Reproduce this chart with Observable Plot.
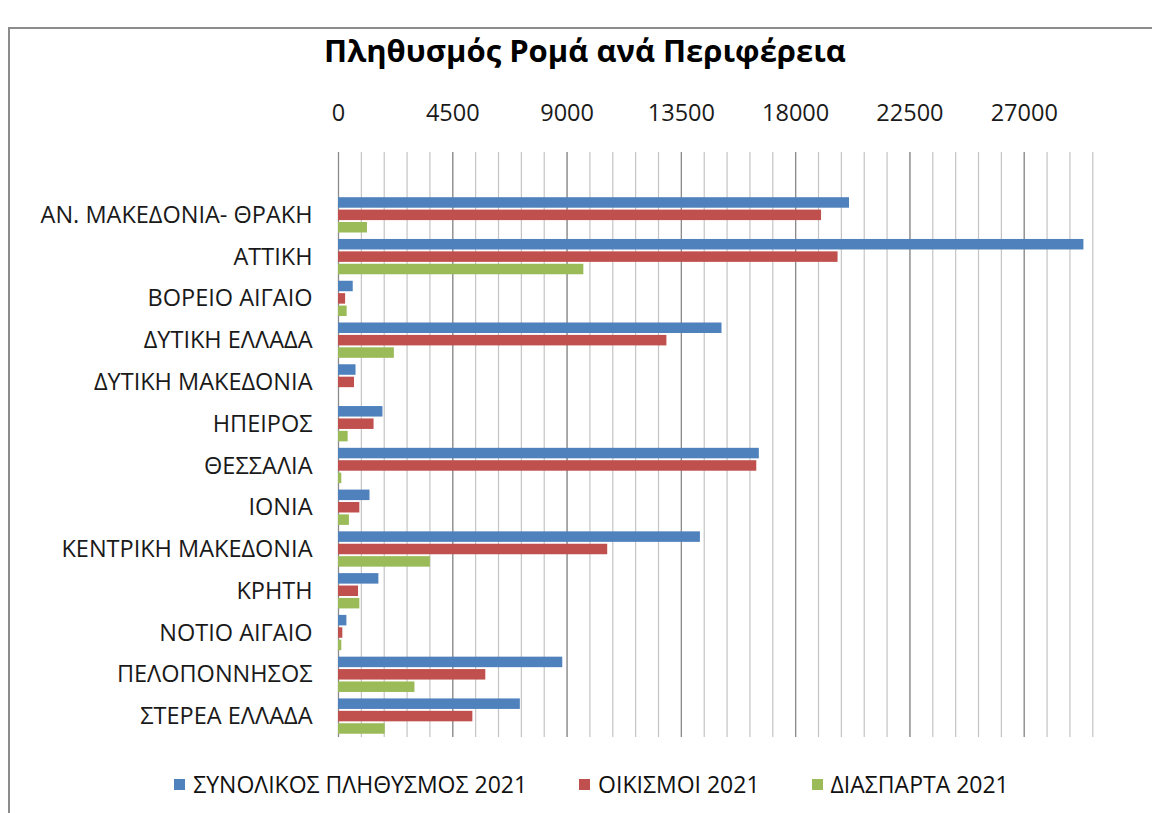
<!DOCTYPE html>
<html><head><meta charset="utf-8">
<script src="https://cdn.jsdelivr.net/npm/d3@7"></script>
<script src="https://cdn.jsdelivr.net/npm/@observablehq/plot@0.6"></script>
<style>
html,body{margin:0;padding:0;background:#fff;overflow:hidden;width:1152px;height:813px;position:relative;}
#frame{position:absolute;left:8px;top:27px;width:1300px;height:900px;border:2px solid #8c8c8c;box-sizing:border-box;}
#title{position:absolute;left:0;width:1170px;top:29px;text-align:center;font-family:"Open Sans";font-weight:bold;font-size:31px;color:#000;}
#chart{position:absolute;left:0;top:80px;}
#legend{position:absolute;left:0;width:1183px;top:768px;display:flex;justify-content:center;gap:52px;font-family:"Open Sans";font-size:23px;color:#111;}
#legend .it{display:flex;align-items:center;gap:8px;}
#legend .sw{width:11px;height:11px;display:inline-block;}
</style></head>
<body>
<div id="frame"></div>
<div id="title">Πληθυσμός Ρομά ανά Περιφέρεια</div>
<div id="chart"></div>
<div id="legend"></div>
<script>
const regions = ["ΑΝ. ΜΑΚΕΔΟΝΙΑ- ΘΡΑΚΗ","ΑΤΤΙΚΗ","ΒΟΡΕΙΟ ΑΙΓΑΙΟ","ΔΥΤΙΚΗ ΕΛΛΑΔΑ","ΔΥΤΙΚΗ ΜΑΚΕΔΟΝΙΑ","ΗΠΕΙΡΟΣ","ΘΕΣΣΑΛΙΑ","ΙΟΝΙΑ","ΚΕΝΤΡΙΚΗ ΜΑΚΕΔΟΝΙΑ","ΚΡΗΤΗ","ΝΟΤΙΟ ΑΙΓΑΙΟ","ΠΕΛΟΠΟΝΝΗΣΟΣ","ΣΤΕΡΕΑ ΕΛΛΑΔΑ"];
const total2021 = [20120, 29350, 580, 15100, 690, 1750, 16570, 1240, 14250, 1590, 330, 8830, 7160];
const settlements2021 = [19020, 19670, 280, 12930, 630, 1400, 16470, 840, 10600, 790, 170, 5800, 5290];
const scattered2021 = [1140, 9660, 340, 2200, 0, 380, 130, 430, 3620, 840, 130, 3010, 1840];
const seriesNames = ["ΣΥΝΟΛΙΚΟΣ ΠΛΗΘΥΣΜΟΣ 2021","ΟΙΚΙΣΜΟΙ 2021","ΔΙΑΣΠΑΡΤΑ 2021"];
const seriesColors = ["#4F81BD","#C0504D","#9BBB59"];
const xTicks = [0, 4500, 9000, 13500, 18000, 22500, 27000];
const xMax = 29700;
const minorStep = 900;

const data = regions.map((r, i) => ({region: r, total: total2021[i], settlements: settlements2021[i], scattered: scattered2021[i]}));
const minorTicks = d3.range(0, xMax + 1, minorStep);

const band = (737 - 152 - 42) / regions.length;
const barH = 10.5;
const offs = [3.2, 15.6, 28];
const keys = ["total", "settlements", "scattered"];

const chart = Plot.plot({
  width: 1152,
  height: 670,
  marginTop: 72,
  marginBottom: 13,
  marginLeft: 338,
  marginRight: 1152 - 1092.3,
  style: {fontFamily: "Open Sans", fontSize: "23px", color: "#1a1a1a", background: "transparent"},
  x: {domain: [0, xMax]},
  y: {domain: regions, insetTop: 42, paddingInner: 0, paddingOuter: 0, round: false},
  marks: [
    Plot.gridX(minorTicks, {stroke: "#c4c4c4", strokeOpacity: 1, strokeWidth: 1.2}),
    Plot.gridX(xTicks, {stroke: "#8a8a8a", strokeOpacity: 1, strokeWidth: 1.2}),
    ...keys.map((k, j) => Plot.barX(data, {
      x: k, y: "region", fill: seriesColors[j],
      insetTop: offs[j], insetBottom: band - offs[j] - barH
    })),
    Plot.axisX({anchor: "top", ticks: xTicks, tickSize: 0, tickPadding: 32, label: null, fontSize: "23.5px", tickFormat: d => String(d)}),
    Plot.axisY({anchor: "left", tickSize: 0, tickPadding: 26, label: null, fontSize: "23.5px"})
  ]
});
document.getElementById("chart").appendChild(chart);

const leg = document.getElementById("legend");
seriesNames.forEach((n, i) => {
  const it = document.createElement("div"); it.className = "it";
  const sw = document.createElement("span"); sw.className = "sw"; sw.style.background = seriesColors[i];
  const t = document.createElement("span"); t.textContent = n;
  it.appendChild(sw); it.appendChild(t); leg.appendChild(it);
});
</script>
</body></html>
